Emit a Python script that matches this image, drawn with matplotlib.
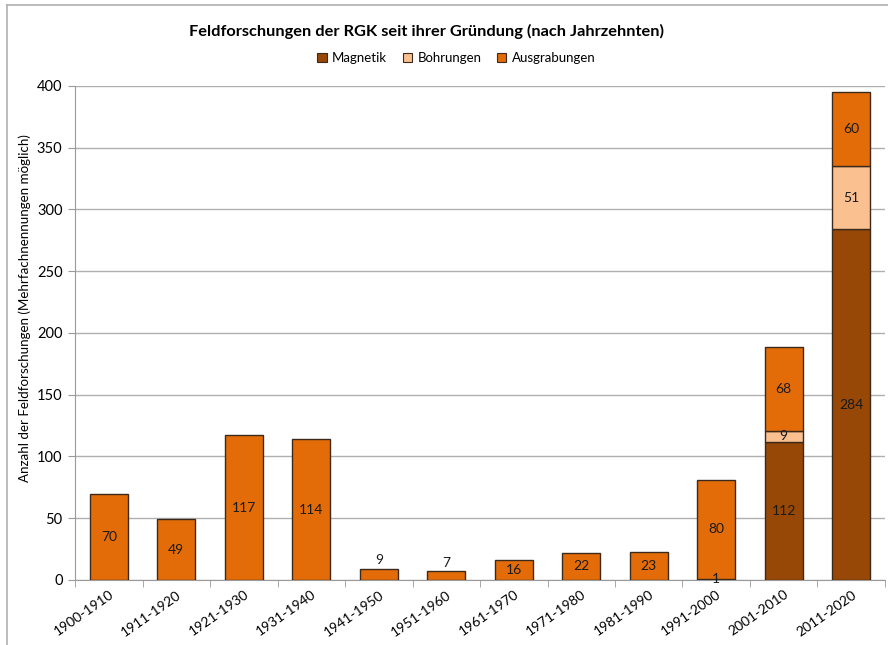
import matplotlib.pyplot as plt
import numpy as np
from matplotlib.lines import Line2D

plt.rcParams['font.family'] = ['Lato', 'DejaVu Sans']

decades = ['1900-1910', '1911-1920', '1921-1930', '1931-1940', '1941-1950', '1951-1960',
           '1961-1970', '1971-1980', '1981-1990', '1991-2000', '2001-2010', '2011-2020']
magnetik = [0, 0, 0, 0, 0, 0, 0, 0, 0, 1, 112, 284]
bohrungen = [0, 0, 0, 0, 0, 0, 0, 0, 0, 0, 9, 51]
ausgrabungen = [70, 49, 117, 114, 9, 7, 16, 22, 23, 80, 68, 60]

c_mag = '#974706'
c_bohr = '#FAC090'
c_aus = '#E36C09'
edge = '#3b2a1c'

fig = plt.figure(figsize=(8.88, 6.45), dpi=100)
ax = fig.add_axes([0.0845, 0.1008, 0.9121, 0.7659])

x = np.arange(len(decades))
mag = np.array(magnetik)
bohr = np.array(bohrungen)
aus = np.array(ausgrabungen)
w = 0.56

ax.bar(x, mag, w, color=c_mag, edgecolor=edge, linewidth=1, zorder=3)
ax.bar(x, bohr, w, bottom=mag, color=c_bohr, edgecolor=edge, linewidth=1, zorder=3)
ax.bar(x, aus, w, bottom=mag + bohr, color=c_aus, edgecolor=edge, linewidth=1, zorder=3)

# labels
for i in range(len(decades)):
    if mag[i] > 0:
        ax.text(x[i], mag[i] / 2, str(mag[i]), ha='center', va='center', fontsize=10, color='#1a1a1a', zorder=4)
    if bohr[i] > 0:
        ax.text(x[i], mag[i] + bohr[i] / 2, str(bohr[i]), ha='center', va='center', fontsize=10, color='#1a1a1a', zorder=4)
    base = mag[i] + bohr[i]
    if aus[i] < 12:
        ax.text(x[i], base + aus[i] + 2, str(aus[i]), ha='center', va='bottom', fontsize=10, color='#1a1a1a', zorder=4)
    else:
        ax.text(x[i], base + aus[i] / 2, str(aus[i]), ha='center', va='center', fontsize=10, color='#1a1a1a', zorder=4)

ax.set_xlim(-0.5, len(decades) - 0.5)
ax.set_ylim(0, 400)
ax.set_yticks(np.arange(0, 401, 50))
ax.yaxis.grid(True, color='#b0b0b0', linewidth=1, zorder=0)
ax.set_axisbelow(True)

ax.set_xticks(x)
ax.set_xticklabels(decades, rotation=35, ha='right', rotation_mode='anchor', fontsize=10)
ax.tick_params(axis='x', length=0, pad=6)
ax.set_xticks(np.arange(-0.5, len(decades), 1), minor=True)
ax.tick_params(axis='x', which='minor', length=5, color='#9a9a9a')
ax.tick_params(axis='y', length=5, color='#9a9a9a', labelsize=10.5, pad=4)

for s in ['top', 'right']:
    ax.spines[s].set_visible(False)
ax.spines['left'].set_color('#9a9a9a')
ax.spines['bottom'].set_color('#9a9a9a')

ax.set_ylabel('Anzahl der Feldforschungen (Mehrfachnennungen möglich)', fontsize=9.6)
ax.yaxis.set_label_coords(-0.054, 0.55)

fig.text(0.48, 0.951, 'Feldforschungen der RGK seit ihrer Gründung (nach Jahrzehnten)',
         ha='center', va='center', fontsize=11.8, fontweight='bold')

handles = [plt.Rectangle((0, 0), 1, 1, facecolor=c, edgecolor=edge, linewidth=0.8)
           for c in (c_mag, c_bohr, c_aus)]
fig.legend(handles, ['Magnetik', 'Bohrungen', 'Ausgrabungen'], loc='center',
           bbox_to_anchor=(0.514, 0.91), ncol=3, frameon=False, fontsize=9.5,
           handlelength=0.7, handleheight=0.7, handletextpad=0.4, columnspacing=1.2)

# outer frame
fig.add_artist(Line2D([0.008, 0.008], [0.0, 0.992], color='#b0b0b0', linewidth=1.2, transform=fig.transFigure))
fig.add_artist(Line2D([0.008, 1.0], [0.992, 0.992], color='#b0b0b0', linewidth=1.2, transform=fig.transFigure))

fig.savefig('out.png', dpi=100)
